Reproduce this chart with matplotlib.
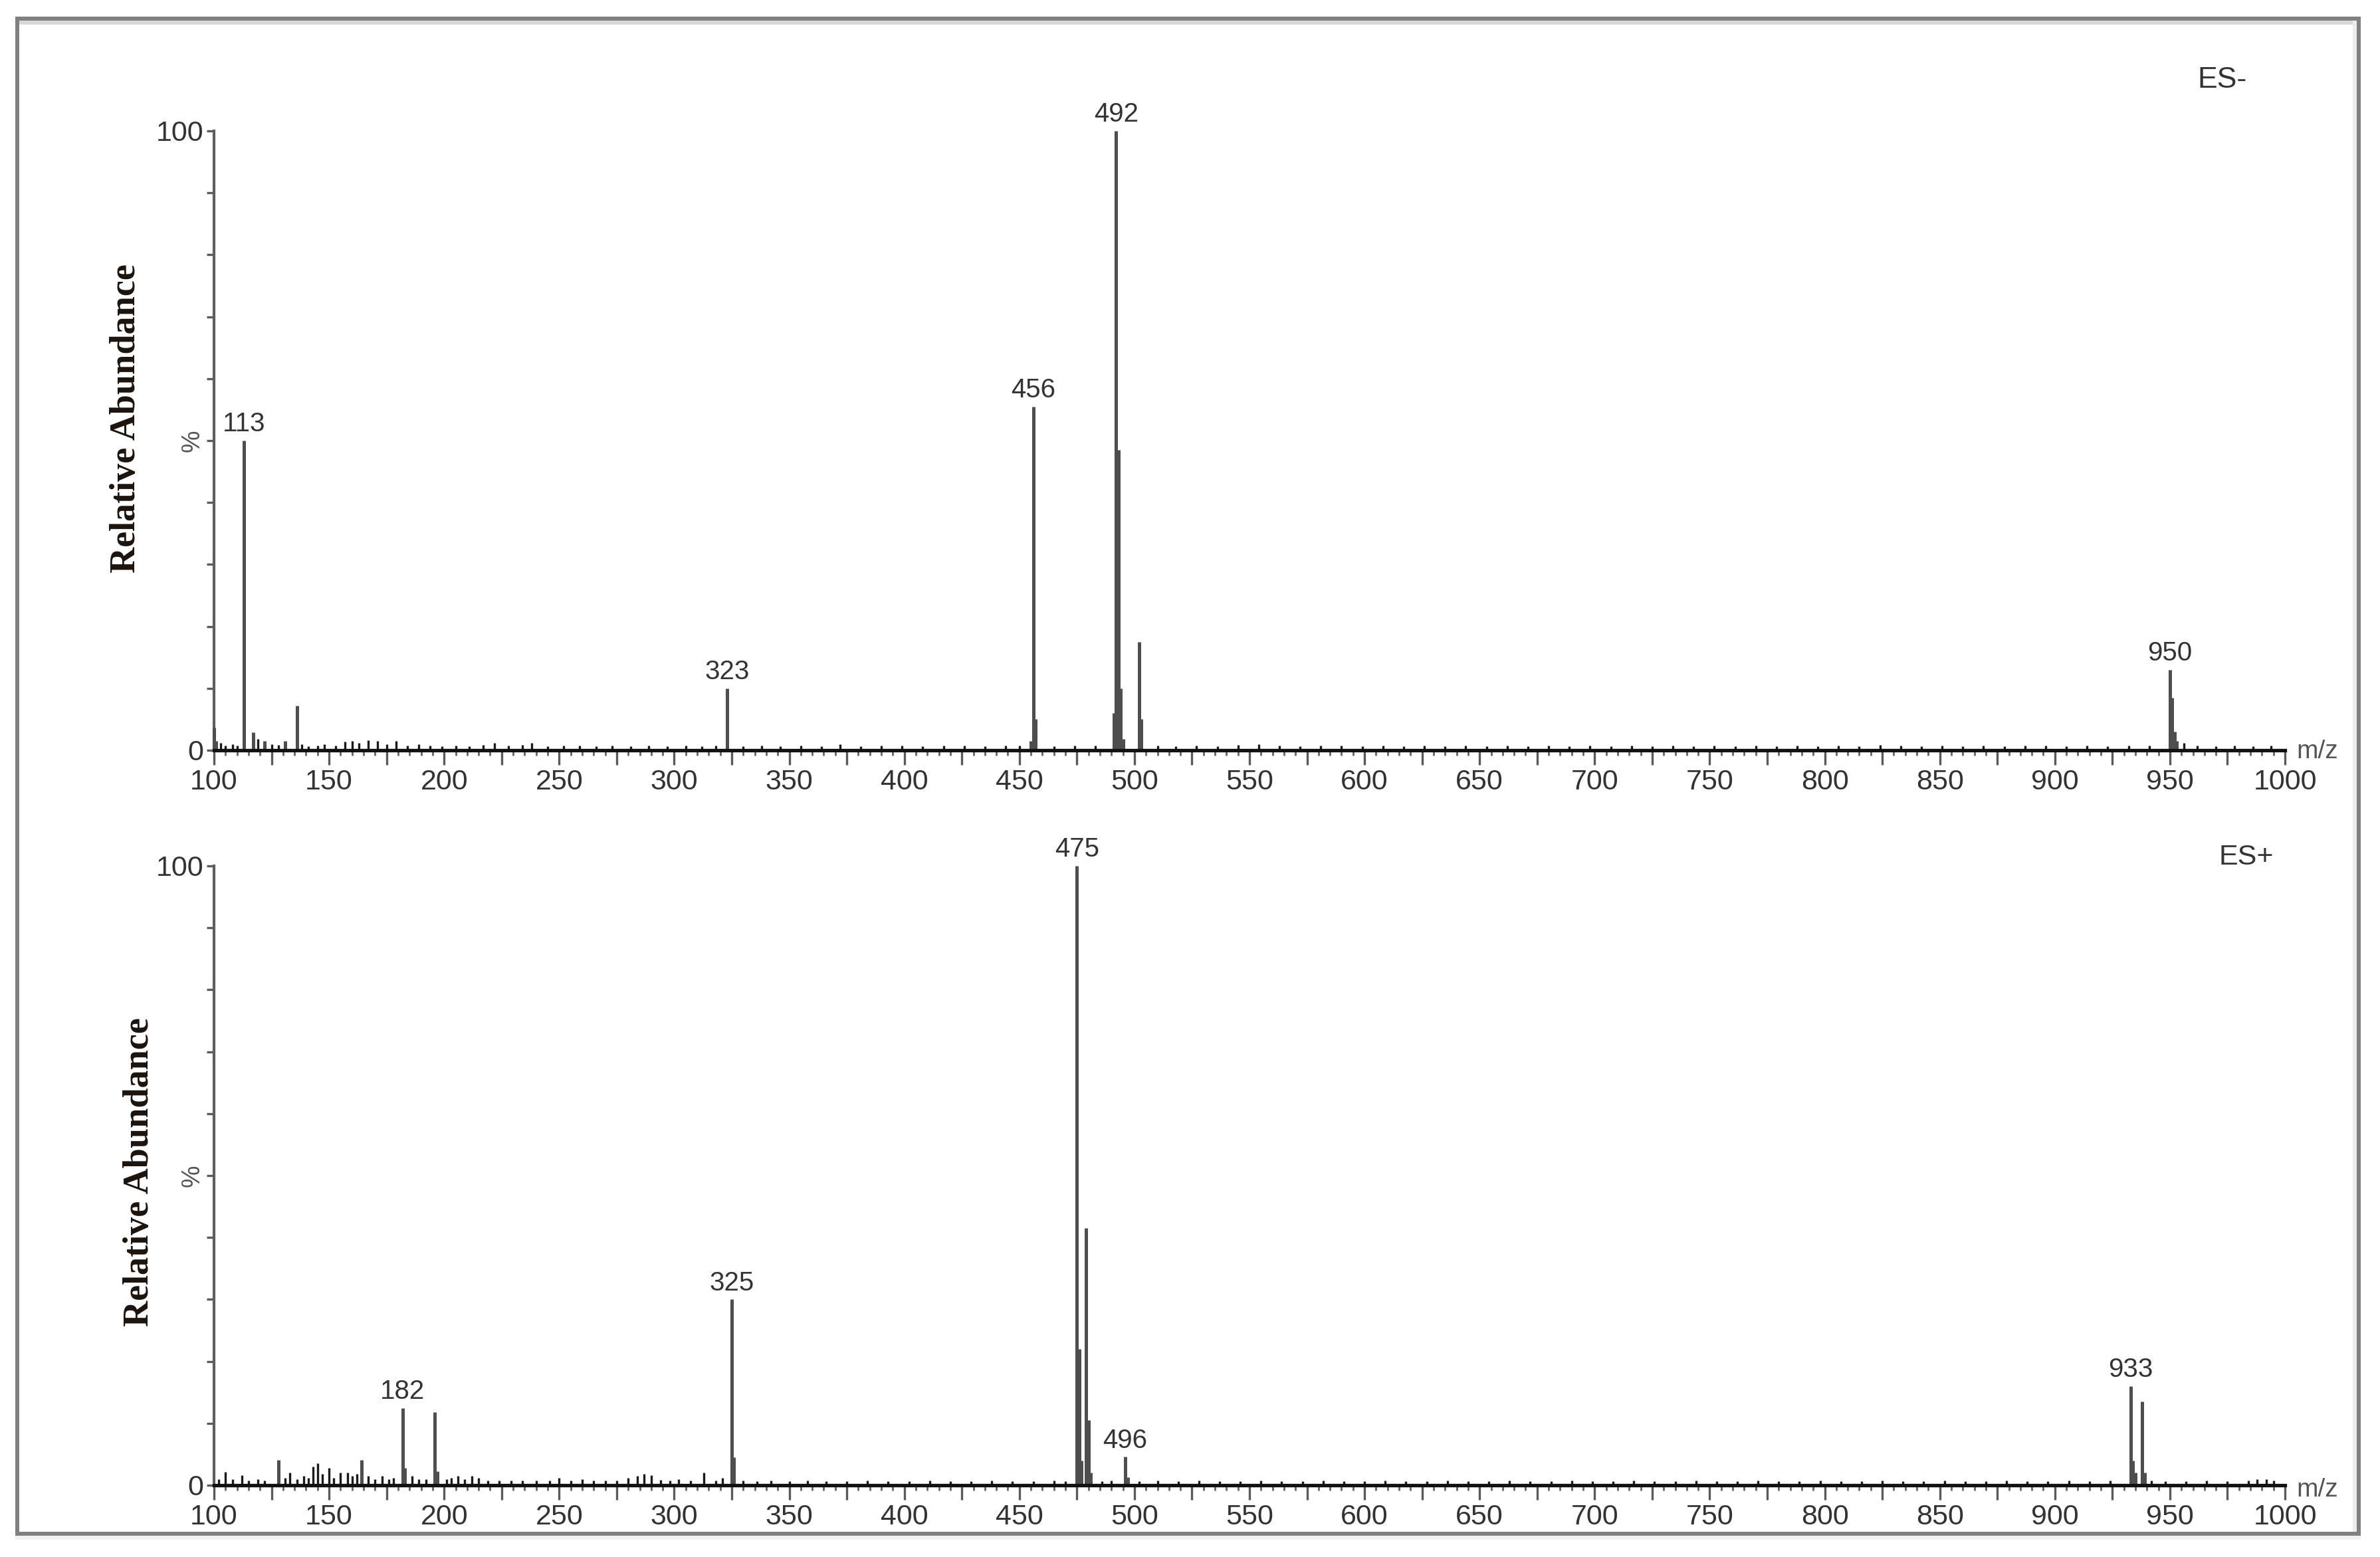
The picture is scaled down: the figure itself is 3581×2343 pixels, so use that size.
import matplotlib
matplotlib.use("Agg")
import matplotlib.pyplot as plt
from matplotlib.lines import Line2D
from matplotlib.ticker import MultipleLocator, FuncFormatter, FixedLocator

# ---------------- data ----------------
# ES- spectrum: main peaks
neg_mz = [100, 101, 113, 117, 122, 131, 136, 323, 455, 456, 457, 491, 492, 493, 494, 495,
          502, 503, 950, 951, 952, 953]
neg_int = [3.6, 1.5, 50.0, 2.9, 1.5, 1.5, 7.2, 10.0, 1.5, 55.5, 5.0, 6.0, 100.0, 48.5, 10.0, 1.8,
           17.5, 5.0, 13.0, 8.5, 3.0, 1.5]
neg_labels = [113, 323, 456, 492, 950]

# ES- baseline noise peaks
neg_noise_mz = [103, 105, 108, 110, 119, 125, 128, 138, 141, 145, 148, 153, 157, 160, 163, 167,
                171, 175, 179, 184, 189, 194, 199, 205, 211, 217, 222, 228, 234, 238, 245, 252,
                259, 266, 273, 281, 289, 297, 305, 312, 318, 330, 338, 346, 355, 364, 372, 381,
                390, 399, 408, 417, 426, 435, 444, 450, 465, 474, 483, 510, 518, 527, 536, 545,
                554, 563, 572, 581, 590, 599, 608, 617, 626, 635, 644, 653, 662, 671, 680, 689,
                698, 707, 716, 725, 734, 743, 752, 761, 770, 779, 788, 797, 806, 815, 824, 833,
                842, 851, 860, 869, 878, 887, 896, 905, 914, 923, 932, 941, 956, 962, 970, 978,
                986, 994]
neg_noise_int = [1.2, 0.8, 1.0, 0.7, 1.8, 1.0, 0.9, 1.0, 0.6, 0.8, 1.0, 0.7, 1.4, 1.5, 1.2, 1.6,
                 1.5, 1.0, 1.5, 0.8, 1.0, 0.7, 0.6, 0.8, 0.6, 0.9, 1.2, 0.7, 0.9, 1.2, 0.6, 0.7,
                 0.8, 0.6, 0.8, 0.6, 0.7, 0.6, 0.8, 0.6, 0.7, 0.6, 0.8, 0.6, 0.7, 0.6, 1.0, 0.6,
                 0.8, 0.7, 0.6, 0.7, 0.8, 0.6, 0.7, 0.8, 0.6, 0.7, 0.8, 0.7, 0.6, 0.8, 0.6, 0.9,
                 1.0, 0.8, 0.6, 0.7, 0.8, 0.6, 0.7, 0.6, 0.8, 0.6, 0.7, 0.6, 0.8, 0.6, 0.7, 0.6,
                 0.8, 0.6, 0.7, 0.6, 0.8, 0.6, 0.7, 0.6, 0.8, 0.6, 0.7, 0.6, 0.8, 0.6, 0.9, 0.7,
                 0.6, 0.8, 0.6, 0.7, 0.6, 0.8, 0.7, 0.6, 0.8, 0.6, 0.7, 0.8, 1.2, 0.8, 0.6, 0.7,
                 0.6, 0.7]

# ES+ spectrum: main peaks
pos_mz = [128, 164, 182, 183, 196, 197, 325, 326, 475, 476, 477, 479, 480, 481, 496, 497,
          933, 934, 935, 938, 939]
pos_int = [4.1, 4.1, 12.5, 2.8, 11.8, 2.2, 30.0, 4.5, 100.0, 22.0, 4.0, 41.5, 10.5, 2.0, 4.6, 1.3,
           16.0, 4.0, 2.0, 13.5, 2.0]
pos_labels = [182, 325, 475, 496, 933]

# ES+ baseline noise peaks
pos_noise_mz = [102, 105, 108, 112, 115, 119, 122, 131, 133, 136, 139, 141, 143, 145, 147, 150,
                152, 155, 158, 160, 162, 167, 170, 173, 176, 178, 186, 189, 192, 201, 203, 206,
                209, 212, 215, 219, 224, 229, 234, 240, 246, 250, 255, 260, 265, 270, 275, 280,
                284, 287, 290, 294, 298, 302, 307, 313, 318, 321, 330, 336, 342, 350, 358, 366,
                375, 384, 393, 402, 411, 420, 429, 438, 447, 456, 465, 470, 486, 490, 502, 510,
                519, 528, 537, 546, 555, 564, 573, 582, 591, 600, 609, 618, 627, 636, 645, 654,
                663, 672, 681, 690, 699, 708, 717, 726, 735, 744, 753, 762, 771, 780, 789, 798,
                807, 816, 825, 834, 843, 852, 861, 870, 879, 888, 897, 906, 915, 924, 942, 948,
                957, 966, 975, 984, 988, 992, 995]
pos_noise_int = [1.0, 2.1, 1.0, 1.6, 0.8, 1.0, 0.8, 1.2, 2.0, 1.0, 1.5, 1.2, 3.0, 3.5, 1.8, 2.8,
                 1.2, 2.0, 2.0, 1.5, 1.8, 1.5, 1.0, 1.5, 1.0, 1.2, 1.5, 1.0, 1.0, 1.0, 1.2, 1.5,
                 1.0, 1.5, 1.2, 0.8, 0.8, 0.7, 0.8, 0.7, 0.8, 1.2, 0.7, 1.0, 0.7, 0.8, 0.7, 1.2,
                 1.5, 1.8, 1.6, 0.9, 0.8, 1.0, 0.8, 2.0, 0.8, 1.2, 0.7, 0.6, 0.7, 0.6, 0.7, 0.6,
                 0.6, 0.7, 0.6, 0.6, 0.7, 0.6, 0.6, 0.7, 0.6, 0.6, 0.7, 0.6, 0.6, 0.8, 0.6, 0.7,
                 0.6, 0.7, 0.6, 0.6, 0.7, 0.6, 0.6, 0.7, 0.6, 0.6, 0.7, 0.6, 0.6, 0.7, 0.6, 0.6,
                 0.7, 0.6, 0.6, 0.7, 0.6, 0.6, 0.7, 0.6, 0.6, 0.7, 0.6, 0.6, 0.7, 0.6, 0.6, 0.7,
                 0.6, 0.6, 0.7, 0.6, 0.6, 0.7, 0.6, 0.6, 0.7, 0.6, 0.6, 0.7, 0.6, 0.7, 0.8, 0.6,
                 0.6, 0.7, 0.6, 0.7, 1.0, 1.0, 0.8]

x_range = (100, 1000)
y_range = (0, 100)
y_tick_values = [0, 50, 100]
y_tick_labels = ["0", "", "100"]

# ---------------- figure ----------------
W, H = 3581, 2343
fig = plt.figure(figsize=(W / 100, H / 100), dpi=100)
fig.patch.set_facecolor("white")
plt.rcParams["font.family"] = ["Liberation Sans", "DejaVu Sans"]


def fx(px):
    return px / W


def fy(py):
    return 1 - py / H


TXT = "#333333"
PEAK = "#4e4e4e"

ax_w = (3438 - 322) / W
ax_h = (1129 - 197) / H
ax_top = fig.add_axes([fx(322), fy(1129), ax_w, ax_h])
ax_bot = fig.add_axes([fx(322), fy(2235), ax_w, ax_h])


def style_axis(ax):
    ax.set_xlim(*x_range)
    ax.set_ylim(*y_range)
    ax.patch.set_alpha(0)
    for s in ("top", "right"):
        ax.spines[s].set_visible(False)
    ax.spines["left"].set_color("#5e5e5e")
    ax.spines["left"].set_linewidth(3.0)
    ax.spines["bottom"].set_color("#111111")
    ax.spines["bottom"].set_linewidth(3.8)
    ax.spines["bottom"].set_zorder(5)
    ax.xaxis.set_major_locator(MultipleLocator(25))
    ax.xaxis.set_minor_locator(MultipleLocator(5))
    ax.xaxis.set_major_formatter(
        FuncFormatter(lambda v, p: f"{int(round(v))}" if int(round(v)) % 50 == 0 else ""))
    ax.tick_params(axis="x", which="major", direction="out", length=16, width=2.4,
                   color="#5a5a5a", pad=4, labelsize=31, labelcolor=TXT)
    ax.tick_params(axis="x", which="minor", direction="out", length=6, width=2.0,
                   color="#666666")
    ax.yaxis.set_major_locator(FixedLocator(y_tick_values))
    ax.set_yticklabels(y_tick_labels)
    ax.yaxis.set_minor_locator(MultipleLocator(10))
    ax.tick_params(axis="y", which="both", direction="out", length=8, width=2.4,
                   color="#5a5a5a", pad=3, labelsize=31, labelcolor=TXT)


def draw_spectrum(ax, mz, inten, nmz, nint, labels):
    ax.vlines(nmz, 0, nint, colors="#1a1a1a", linewidth=2.4, zorder=3, clip_on=False)
    ax.vlines(mz, 0, inten, colors=PEAK, linewidth=3.6, zorder=4, clip_on=False)
    for m in labels:
        h = inten[mz.index(m)]
        ax.annotate(str(m), xy=(m, h), xytext=(0, 4), textcoords="offset points",
                    ha="center", va="bottom", fontsize=29, color=TXT)


style_axis(ax_top)
style_axis(ax_bot)
draw_spectrum(ax_top, neg_mz, neg_int, neg_noise_mz, neg_noise_int, neg_labels)
draw_spectrum(ax_bot, pos_mz, pos_int, pos_noise_mz, pos_noise_int, pos_labels)

# labels
fig.text(fx(3343), fy(121), "ES-", ha="center", va="center", fontsize=32, color=TXT)
fig.text(fx(3380), fy(1290), "ES+", ha="center", va="center", fontsize=31, color=TXT)
for yc in (1131, 2242):
    fig.text(fx(3455), fy(yc), "m/z", ha="left", va="center", fontsize=28, color="#555555")
fig.text(fx(190), fy(630), "Relative Abundance", rotation=90, ha="center", va="center",
         fontsize=39, fontweight="bold", family=["Liberation Serif", "DejaVu Serif"],
         color="#1c140c")
fig.text(fx(210), fy(1764), "Relative Abundance", rotation=90, ha="center", va="center",
         fontsize=39, fontweight="bold", family=["Liberation Serif", "DejaVu Serif"],
         color="#1c140c")
for yc in (663, 1769):
    fig.text(fx(290), fy(yc), "%", rotation=90, ha="center", va="center", fontsize=27,
             color="#555555")

# outer frame (sunken look)
dark = "#808080"
light = "#d8d8d8"
lw_px = 6 * 72 / 100
fig.add_artist(Line2D([fx(23), fx(3552)], [fy(28), fy(28)], transform=fig.transFigure,
                      color=dark, lw=lw_px, solid_capstyle="butt"))
fig.add_artist(Line2D([fx(29), fx(3546)], [fy(34), fy(34)], transform=fig.transFigure,
                      color=light, lw=lw_px, solid_capstyle="butt"))
fig.add_artist(Line2D([fx(3549), fx(3549)], [fy(25), fy(2311)], transform=fig.transFigure,
                      color=dark, lw=lw_px, solid_capstyle="butt"))
fig.add_artist(Line2D([fx(3543), fx(3543)], [fy(31), fy(2305)], transform=fig.transFigure,
                      color="#ececec", lw=lw_px, solid_capstyle="butt"))
fig.add_artist(Line2D([fx(23), fx(3552)], [fy(2308), fy(2308)], transform=fig.transFigure,
                      color=dark, lw=lw_px, solid_capstyle="butt"))
fig.add_artist(Line2D([fx(23), fx(3552)], [fy(2314), fy(2314)], transform=fig.transFigure,
                      color="#f0f0f0", lw=lw_px, solid_capstyle="butt"))
fig.add_artist(Line2D([fx(26), fx(26)], [fy(25), fy(2311)], transform=fig.transFigure,
                      color=dark, lw=lw_px, solid_capstyle="butt"))

fig.savefig("out.png", dpi=100, facecolor="white")
